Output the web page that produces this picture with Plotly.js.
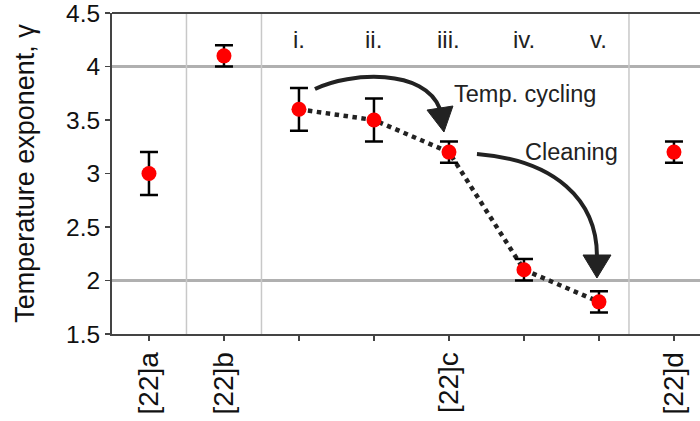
<!DOCTYPE html>
<html>
<head>
<meta charset="utf-8">
<script src="https://cdn.plot.ly/plotly-3.0.1.min.js"></script>
<style>
  html, body { margin: 0; padding: 0; background: #fff; overflow: hidden; }
  #chart { width: 700px; height: 421px; }
</style>
</head>
<body>
<div id="chart"></div>
<script>
// Temperature exponent gamma reported by each source / sample stage
const positions   = [0, 1, 2, 3, 4, 5, 6, 7];
const gammaValues = [3.0, 4.1, 3.6, 3.5, 3.2, 2.1, 1.8, 3.2];
const gammaErrors = [0.2, 0.1, 0.2, 0.2, 0.1, 0.1, 0.1, 0.1];

// Category axis labels (the [22]c group spans the five stages)
const tickLabels  = ['[22]a', '[22]b', '', '', '[22]c', '', '', '[22]d'];

// Value axis ticks
const yTickVals = [1.5, 2, 2.5, 3, 3.5, 4, 4.5];
const yTickText = ['1.5', '2', '2.5', '3', '3.5', '4', '4.5'];

// Stages of the [22]c sample, joined by the dotted line
const stagePositions = [2, 3, 4, 5, 6];
const stageLabels    = ['i.', 'ii.', 'iii.', 'iv.', 'v.'];
const stageValues    = gammaValues.slice(2, 7);

// Section dividers between sources and emphasised reference levels
const dividers   = [0.5, 1.5, 6.4];
const refLevels  = [2, 4];

const FONT = 'Liberation Sans, Arial, Helvetica, sans-serif';
const INK = '#222';

const traces = [
  {
    x: stagePositions,
    y: stageValues,
    type: 'scatter',
    mode: 'lines',
    line: { color: INK, width: 4.5, dash: 'dot' },
    hoverinfo: 'skip',
    showlegend: false
  },
  {
    x: positions,
    y: gammaValues,
    type: 'scatter',
    mode: 'markers',
    marker: { color: '#ff0000', size: 15 },
    error_y: { type: 'data', array: gammaErrors, visible: true,
               color: '#000', thickness: 2.5, width: 9 },
    showlegend: false
  }
];

const shapes = [];
refLevels.forEach(v => shapes.push({
  type: 'line', xref: 'paper', x0: 0, x1: 1, yref: 'y', y0: v, y1: v,
  line: { color: '#b0b0b0', width: 3 }, layer: 'below'
}));
dividers.forEach(v => shapes.push({
  type: 'line', xref: 'x', x0: v, x1: v, yref: 'paper', y0: 0, y1: 1,
  line: { color: '#c8c8c8', width: 1.5 }, layer: 'below'
}));
// top frame line
shapes.push({
  type: 'line', xref: 'paper', x0: 0, x1: 1, yref: 'paper', y0: 1, y1: 1,
  line: { color: '#444', width: 2 }, layer: 'above'
});

// Curved arrows: temperature cycling (i -> iii) and cleaning (iii -> v)
const arrowStyle = { color: INK, width: 4 };
shapes.push({
  type: 'path', xref: 'x', yref: 'y', layer: 'above',
  path: 'M2.213,3.790 C2.68,3.949 3.68,3.986 3.88,3.603',
  line: arrowStyle
});
shapes.push({
  type: 'path', xref: 'x', yref: 'y', layer: 'above',
  path: 'M3.707,3.593 L4.053,3.631 L3.933,3.388 Z',
  fillcolor: INK, line: { color: INK, width: 1 }
});
shapes.push({
  type: 'path', xref: 'x', yref: 'y', layer: 'above',
  path: 'M4.373,3.182 C5.413,3.126 5.973,2.752 5.973,2.229',
  line: arrowStyle
});
shapes.push({
  type: 'path', xref: 'x', yref: 'y', layer: 'above',
  path: 'M5.787,2.238 L6.16,2.238 L5.973,2.023 Z',
  fillcolor: INK, line: { color: INK, width: 1 }
});

const annotations = stageLabels.map((t, i) => ({
  x: stagePositions[i], y: 4.25, xref: 'x', yref: 'y',
  text: t, showarrow: false, xanchor: 'center', yanchor: 'middle',
  font: { family: FONT, size: 24, color: INK }
}));
annotations.push({
  x: 4.04, y: 3.74, xref: 'x', yref: 'y', text: 'Temp. cycling',
  showarrow: false, xanchor: 'left', yanchor: 'middle',
  font: { family: FONT, size: 23.5, color: INK }
});
annotations.push({
  x: 4.987, y: 3.201, xref: 'x', yref: 'y', text: 'Cleaning',
  showarrow: false, xanchor: 'left', yanchor: 'middle',
  font: { family: FONT, size: 23.5, color: INK }
});

const layout = {
  width: 700,
  height: 421,
  margin: { l: 112, r: 0, t: 13, b: 87 },
  paper_bgcolor: '#fff',
  plot_bgcolor: '#fff',
  font: { family: FONT, color: '#111' },
  xaxis: {
    range: [-0.493, 7.347],
    tickmode: 'array',
    tickvals: positions,
    ticktext: tickLabels,
    tickangle: -90,
    tickfont: { family: FONT, size: 28, color: '#111' },
    ticks: 'outside', ticklen: 5, tickwidth: 1.5, tickcolor: '#444',
    showline: true, linecolor: '#444', linewidth: 2,
    showgrid: false, zeroline: false, fixedrange: true,
    ticklabeloverflow: 'allow'
  },
  yaxis: {
    range: [1.4995, 4.5005],
    tickmode: 'array', tickvals: yTickVals, ticktext: yTickText,
    tickfont: { family: FONT, size: 24.5, color: '#111' },
    ticks: 'outside', ticklen: 5, tickwidth: 1.5, tickcolor: '#444',
    showline: true, linecolor: '#444', linewidth: 2,
    showgrid: false, zeroline: false, fixedrange: true,
    ticklabeloverflow: 'allow',
    title: { text: 'Temperature exponent, γ', standoff: 24,
             font: { family: FONT, size: 27, color: '#111' } }
  },
  shapes: shapes,
  annotations: annotations,
  showlegend: false
};

Plotly.newPlot('chart', traces, layout, { displayModeBar: false, staticPlot: true });
</script>
</body>
</html>
